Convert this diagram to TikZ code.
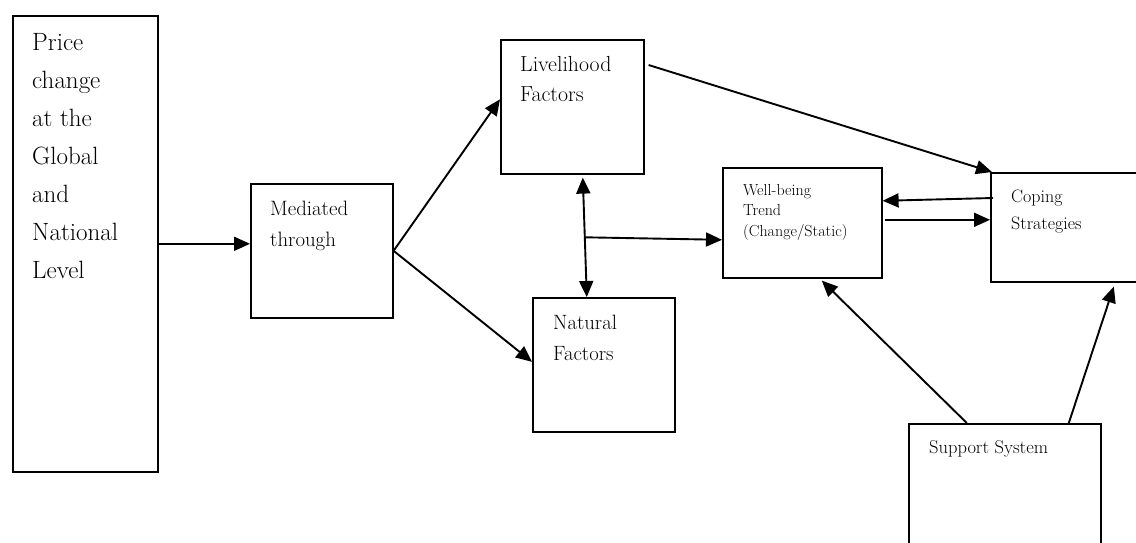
\documentclass[tikz,border=0pt]{standalone}
\usepackage{fontspec}
\usetikzlibrary{arrows.meta,calc}
\begin{document}
\begin{tikzpicture}[x=1pt,y=-1pt,
  box/.style={draw, line width=1.6pt, rectangle, inner sep=0pt, anchor=north west},
  txt/.style={anchor=base west, inner sep=0pt, align=left},
  arr/.style={line width=1.9pt, -{Triangle[length=16pt,width=14pt]}},
  darr/.style={line width=1.9pt, {Triangle[length=16pt,width=14pt]}-{Triangle[length=16pt,width=14pt]}}]
\useasboundingbox (0,0) rectangle (1136,542);
\clip (0,0) rectangle (1136,542);
% boxes
\node[box, minimum width=145pt, minimum height=456pt] (price) at (12,15) {};
\node[box, minimum width=142pt, minimum height=134pt] (mediated) at (250,183) {};
\node[box, minimum width=143pt, minimum height=134pt] (live) at (500,39) {};
\node[box, minimum width=142pt, minimum height=134pt] (natural) at (532,297) {};
\node[box, minimum width=159pt, minimum height=110pt] (well) at (722,167) {};
\node[box, minimum width=155pt, minimum height=109pt] (coping) at (990,172) {};
\node[box, minimum width=192pt, minimum height=130pt] (support) at (908,423) {};
% texts (anchored at the baseline of their last line)
\node[txt, font=\fontsize{25}{38}\selectfont] (priceT) at (32,278) {Price\\change\\at the\\Global\\and\\National\\Level};
\node[txt, font=\fontsize{20.8}{31.5}\selectfont] (medT) at (270,246.5) {Mediated\\through};
\node[txt, font=\fontsize{21.8}{30}\selectfont] (liveT) at (520,101) {Livelihood\\Factors};
\node[txt, font=\fontsize{20.7}{31}\selectfont] (natT) at (553,360) {Natural\\Factors};
\node[txt, font=\fontsize{16}{20.5}\selectfont] (wellT) at (743,236) {Well-being\\Trend\\(Change/Static)};
\node[txt, font=\fontsize{18}{27}\selectfont] (copT) at (1011,229) {Coping\\Strategies};
\node[txt, font=\fontsize{18.5}{24}\selectfont] (supT) at (929,453) {Support System};
% connectors
\draw[arr] (price.east) -- (price.east -| mediated.west);
\draw[arr] (mediated.east) -- ([shift={(0,-7.5)}]live.west);
\draw[arr] (mediated.east) -- ([shift={(0,-3)}]natural.west);
\coordinate (dtop) at ([shift={(10.5,3)}]live.south);
\coordinate (dbot) at ([shift={(-17,0)}]natural.north);
\draw[darr] (dtop) -- (dbot);
\coordinate (br) at ($(dtop)!0.5!(dbot)$);
\draw[arr] (br) -- ([shift={(0,17)}]well.west);
\draw[arr] ([shift={(4,26)}]live.north east) -- ([shift={(2,0)}]coping.north west);
\draw[arr] ([shift={(3,26)}]coping.north west) -- ([shift={(0,-22)}]well.east);
\draw[arr] ([shift={(2,-3)}]well.east) -- ([shift={(0,-7.5)}]coping.west);
\draw[arr] ([shift={(-38,0)}]support.north) -- ([shift={(19.5,2)}]well.south);
\draw[arr] ([shift={(64,0)}]support.north) -- ([shift={(45.5,4)}]coping.south);
\end{tikzpicture}
\end{document}
